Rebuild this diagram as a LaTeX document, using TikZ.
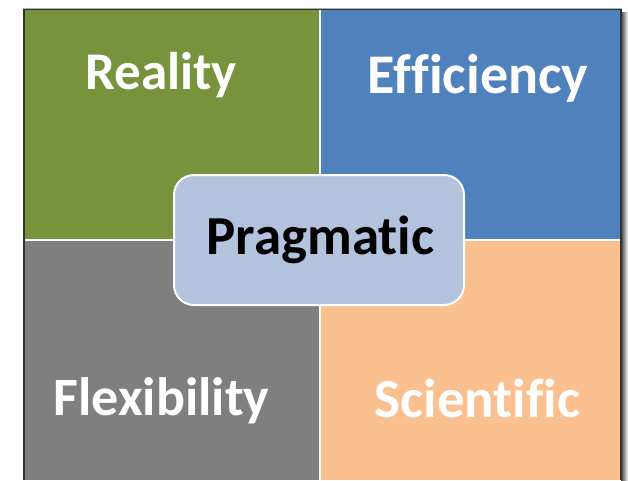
\documentclass[tikz,border=0pt]{standalone}
\usepackage{fontspec}
\setmainfont[Ligatures=NoCommon]{Carlito}
\definecolor{qgreen}{HTML}{77933C}
\definecolor{qblue}{HTML}{4F81BD}
\definecolor{qgray}{HTML}{7F7F7F}
\definecolor{qpeach}{HTML}{FAC090}
\definecolor{cbox}{HTML}{B3C3DE}
\tikzset{
  quad/.style={draw=none, inner sep=0pt, outer sep=0pt},
  lbl/.style={text=white, font=\bfseries\fontsize{54}{60}\selectfont, anchor=base, inner sep=0pt},
  center/.style={fill=cbox, draw=white, line width=2pt, rounded corners=20pt, inner sep=0pt, outer sep=0pt}
}
\begin{document}
\begin{tikzpicture}[x=1pt,y=-1pt]
\useasboundingbox (0,0) rectangle (628,480);
\fill[white] (0,0) rectangle (628,480);
% shadow on right
\shade[left color=black!75, right color=white] (621,12) rectangle (628,480);
\fill[black!80] (23,9) rectangle (622,480);
\draw[black!30, line width=0.8pt] (23,8.6) -- (622,8.6);
\fill[white] (25,10) rectangle (620,480);
% quadrants
\path[fill=qgreen] (25,10) rectangle (319,239) node[quad, pos=0.5] (qa) {};
\path[fill=qblue] (321,10) rectangle (620,239) node[quad, pos=0.5] (qb) {};
\path[fill=qgray] (25,241) rectangle (319,480) node[quad, pos=0.5] (qc) {};
\path[fill=qpeach] (321,241) rectangle (620,480) node[quad, pos=0.5] (qd) {};
% labels
\node[lbl, font=\bfseries\fontsize{53}{60}\selectfont] (reality) at (161,89) {Reality};
\node[lbl, font=\bfseries\fontsize{56}{60}\selectfont] (efficiency) at (478,93) {Efficiency};
\node[lbl] (flexibility) at (161.5,415) {Flexibility};
\node[lbl, font=\bfseries\fontsize{55}{60}\selectfont] (scientific) at (477.5,417) {Scientific};
% center box
\draw[center] (174,175) rectangle (464,305);
\node[font=\bfseries\fontsize{55}{60}\selectfont, anchor=base, inner sep=0pt] (pragmatic) at (320.5,254) {Pragmatic};
\end{tikzpicture}
\end{document}
